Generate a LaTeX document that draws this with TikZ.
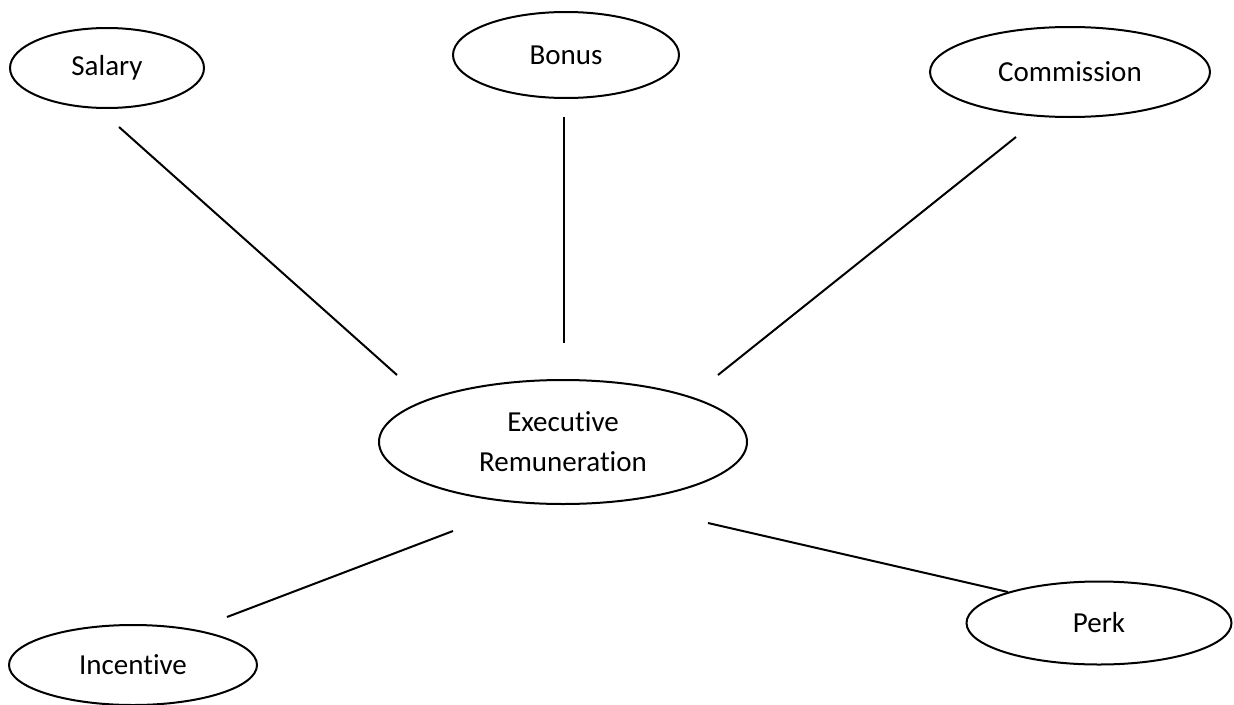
\documentclass[tikz,border=0pt]{standalone}
\usepackage{fontspec}
\setmainfont[Ligatures=NoCommon]{Carlito}
\usetikzlibrary{shapes.geometric}
\begin{document}
\begin{tikzpicture}[x=1pt,y=-1pt,
  bubble/.style={draw=black, line width=2pt, ellipse, inner sep=0pt,
    font=\fontsize{29}{40}\selectfont, align=center},
  link/.style={draw=black, line width=2pt}]
\useasboundingbox (0,0) rectangle (1234,704);
\node[bubble, minimum width=194pt, minimum height=80pt] (sal) at (107,68) {Salary};
\node[bubble, minimum width=226pt, minimum height=86pt] (bon) at (566,55) {Bonus};
\node[bubble, minimum width=280pt, minimum height=90pt] (com) at (1070,72) {Commission};
\node[bubble, minimum width=368pt, minimum height=124pt] (exe) at (563,442) {Executive\\Remuneration};
\node[bubble, minimum width=248pt, minimum height=80pt] (inc) at (133,665) {Incentive};
\node[bubble, minimum width=265pt, minimum height=83pt] (per) at (1099,623) {Perk};
\coordinate (salA) at (119,127);
\coordinate (salB) at (397,375);
\coordinate (bonA) at (564,117);
\coordinate (bonB) at (564,343);
\coordinate (comA) at (1016,137);
\coordinate (comB) at (718,375);
\coordinate (incA) at (453,531);
\coordinate (incB) at (227,617);
\coordinate (perA) at (708,523);
\coordinate (perB) at (1008,592);
\draw[link] (salA) -- (salB);
\draw[link] (bonA) -- (bonB);
\draw[link] (comA) -- (comB);
\draw[link] (incA) -- (incB);
\draw[link] (perA) -- (perB);
\end{tikzpicture}
\end{document}
